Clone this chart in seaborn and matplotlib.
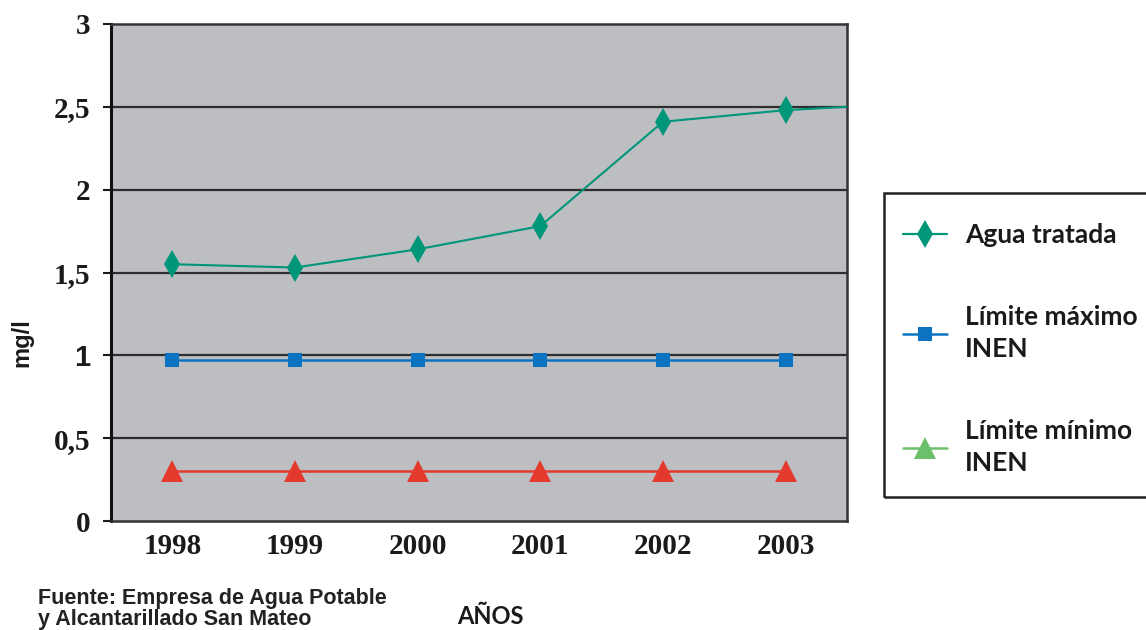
import matplotlib
matplotlib.use("Agg")
import matplotlib.pyplot as plt
from matplotlib.lines import Line2D
from matplotlib.patches import Rectangle
import seaborn as sns
import pandas as pd

# Data
years = ["1998", "1999", "2000", "2001", "2002", "2003"]
agua_tratada = [1.55, 1.53, 1.64, 1.78, 2.41, 2.48]
limite_maximo = [0.97, 0.97, 0.97, 0.97, 0.97, 0.97]
limite_minimo = [0.30, 0.30, 0.30, 0.30, 0.30, 0.30]
y_ticks = [0, 0.5, 1, 1.5, 2, 2.5, 3]
y_tick_labels = ["0", "0,5", "1", "1,5", "2", "2,5", "3"]

series_names = ["Agua tratada", "Límite máximo\nINEN", "Límite mínimo\nINEN"]

GREEN = "#00967a"
BLUE = "#0a74c2"
RED = "#e43a2d"
LEGEND_TRI = "#6cc06c"
BG = "#bdbec2"
GRID = "#2e2e2e"

sns.set_theme(style="white")
plt.rcParams["font.family"] = ["DejaVu Sans"]

W, H = 1146, 630
fig = plt.figure(figsize=(W / 100, H / 100), dpi=100)
ax = fig.add_axes([111 / W, 1 - 521 / H, (847 - 111) / W, (521 - 24) / H])
ax.set_facecolor(BG)

idx = list(range(len(years)))
df = pd.DataFrame({"x": idx, "agua": agua_tratada, "max": limite_maximo, "min": limite_minimo})

# grid lines under the series
for v in y_ticks[1:-1]:
    ax.axhline(v, color=GRID, lw=1.6, zorder=1)

sns.lineplot(data=df, x="x", y="max", ax=ax, color=BLUE, lw=1.8, marker="s",
             markersize=10, markeredgewidth=0, markerfacecolor=BLUE, zorder=3)
sns.lineplot(data=df, x="x", y="min", ax=ax, color=RED, lw=1.8, marker="^",
             markersize=15.5, markeredgewidth=0, markerfacecolor=RED, zorder=3)
sns.lineplot(data=df, x="x", y="agua", ax=ax, color=GREEN, lw=1.5, marker="d",
             markersize=14, markeredgewidth=0, markerfacecolor=GREEN, zorder=4)
# treated-water line carries on to the right edge of the plot
ax.plot([idx[-1], len(years) - 0.5], [agua_tratada[-1], agua_tratada[-1] + 0.02],
        color=GREEN, lw=1.5, zorder=4)

ax.set_xlim(-0.5, len(years) - 0.5)
ax.set_ylim(0, 3)

# category labels at centres, tick marks at the boundaries
ax.set_xticks(idx)
ax.set_xticklabels(years, family="Liberation Serif", fontweight="bold", fontsize=21, color="#1a1a1a")
ax.set_xticks([i + 0.5 for i in idx], minor=True)
ax.tick_params(axis="x", which="major", length=0, pad=9)
ax.tick_params(axis="x", which="minor", length=12, width=1.8, color="#1a1a1a", direction="out")

ax.set_yticks(y_ticks)
ax.set_yticklabels(y_tick_labels, family="Liberation Serif", fontweight="bold", fontsize=21, color="#1a1a1a")
for lab in ax.get_yticklabels():
    if lab.get_text() == "1":
        lab.set_family("Liberation Sans")
ax.tick_params(axis="y", length=6, width=1.5, color="#1a1a1a", direction="out", pad=9, left=True)

ax.set_xlabel("")
ax.set_ylabel("")
for side, sp in ax.spines.items():
    sp.set_visible(True)
    sp.set_color("#333333")
    sp.set_linewidth(1.8)
ax.spines["left"].set_color("#111111")
ax.spines["left"].set_linewidth(2.2)

fig.text(22 / W, 1 - 343 / H, "mg/l", rotation=90, ha="center", va="center",
         fontsize=17, fontweight="bold", family="Liberation Sans", color="#1a1a1a")
fig.text(490 / W, 1 - 617 / H, "AÑOS", ha="center", va="center",
         fontsize=17, fontweight="bold", family="Lato", color="#1a1a1a")
fig.text(38 / W, 1 - 588 / H, "Fuente: Empresa de Agua Potable\ny Alcantarillado San Mateo",
         ha="left", va="top", fontsize=15.5, fontweight="bold", family="Liberation Sans",
         color="#222222", linespacing=1.0)

# legend frame, running off the right edge of the figure
fig.patches.append(Rectangle((884 / W, 1 - 497 / H), (W + 10 - 884) / W, (497 - 193) / H,
                             transform=fig.transFigure, fill=False, edgecolor="#222222",
                             linewidth=1.8, zorder=0))

handles = [
    Line2D([], [], color=GREEN, lw=1.6, marker="d", markersize=14, markeredgewidth=0),
    Line2D([], [], color=BLUE, lw=1.8, marker="s", markersize=10.5, markeredgewidth=0),
    Line2D([], [], color=LEGEND_TRI, lw=1.8, marker="^", markersize=16, markeredgewidth=0),
]
leg = fig.legend(handles, series_names, loc="upper left",
                 bbox_to_anchor=(903 / W, 1 - 223 / H), frameon=False,
                 prop={"family": "Lato", "weight": "bold", "size": 19},
                 labelspacing=2.2, handlelength=1.67, handletextpad=0.68, borderpad=0,
                 borderaxespad=0)
for t in leg.get_texts():
    t.set_color("#1a1a1a")
    t.set_linespacing(1.4)

fig.savefig("out.png", dpi=100, facecolor="white")
